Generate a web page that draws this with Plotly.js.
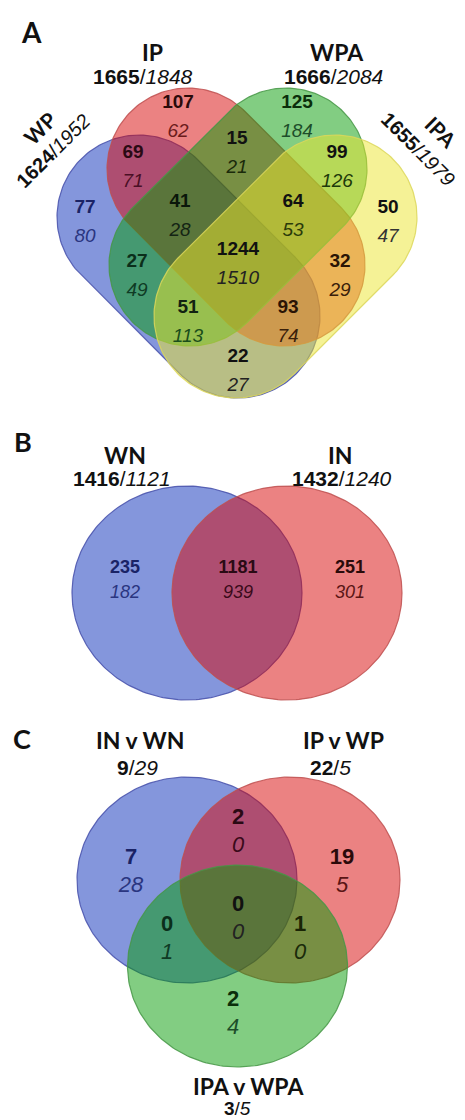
<!DOCTYPE html>
<html><head><meta charset="utf-8">
<script src="https://cdn.plot.ly/plotly-3.0.1.min.js"></script>
<style>html,body{margin:0;padding:0;background:#fff}</style>
</head><body><div id="chart" style="width:465px;height:1120px"></div>
<script>
// ================= DATA =================
// Panel A : four sets
const setNamesA = ['WP', 'IP', 'WPA', 'IPA'];
const setTotalsA = [1624, 1665, 1666, 1655];
const setTotalsAItal = [1952, 1848, 2084, 1979];
const regionNamesA = ['IP', 'WPA', 'WP&IP', 'IP&WPA', 'WPA&IPA', 'WP', 'WP&IP&WPA', 'IP&WPA&IPA', 'IPA',
  'ALL', 'WP&WPA', 'IP&IPA', 'WP&WPA&IPA', 'WP&IP&IPA', 'WP&IPA'];
const regionValuesA = [107, 125, 69, 15, 99, 77, 41, 64, 50, 1244, 27, 32, 51, 93, 22];
const regionValuesAItal = [62, 184, 71, 21, 126, 80, 28, 53, 47, 1510, 49, 29, 113, 74, 27];

// Panel B : two sets
const setNamesB = ['WN', 'IN'];
const setTotalsB = [1416, 1432];
const setTotalsBItal = [1121, 1240];
const regionNamesB = ['WN', 'WN&IN', 'IN'];
const regionValuesB = [235, 1181, 251];
const regionValuesBItal = [182, 939, 301];

// Panel C : three sets
const setNamesC = ['IN v WN', 'IP v WP', 'IPA v WPA'];
const setTotalsC = [9, 22, 3];
const setTotalsCItal = [29, 5, 5];
const regionNamesC = ['INvWN', 'INvWN&IPvWP', 'IPvWP', 'INvWN&IPAvWPA', 'ALL', 'IPvWP&IPAvWPA', 'IPAvWPA'];
const regionValuesC = [7, 2, 19, 0, 0, 1, 2];
const regionValuesCItal = [28, 0, 5, 1, 0, 0, 4];

// ================= GEOMETRY / STYLE =================
const fills = {
  blue:   {fill: 'rgba(10,45,185,0.5)',  line: 'rgba(70,80,170,0.85)'},
  red:    {fill: 'rgba(215,5,5,0.5)',    line: 'rgba(190,80,80,0.85)'},
  green:  {fill: 'rgba(5,155,5,0.5)',    line: 'rgba(70,150,70,0.85)'},
  yellow: {fill: 'rgba(235,230,45,0.5)', line: 'rgba(220,215,90,0.85)'}
};
// stadium shapes for panel A (order: WP, IP, WPA, IPA): two cap centres + radius
const stadiumsA = [
  {p1: [139, 217], p2: [238, 316], r: 82, col: 'blue'},
  {p1: [188, 169], p2: [284, 265], r: 81, col: 'red'},
  {p1: [286, 169], p2: [190, 265], r: 81, col: 'green'},
  {p1: [335, 217], p2: [236, 316], r: 82, col: 'yellow'}
];
const ellipsesB = [
  {cx: 187, cy: 593, rx: 115, ry: 107, col: 'blue'},
  {cx: 287, cy: 593, rx: 115, ry: 107, col: 'red'}
];
const ellipsesC = [
  {cx: 187, cy: 880, rx: 110, ry: 103, col: 'blue'},
  {cx: 290, cy: 880, rx: 110, ry: 103, col: 'red'},
  {cx: 237.5, cy: 966, rx: 110, ry: 101, col: 'green'}
];
// label anchors (pixel coordinates of the region labels)
const posA = [[178,103],[297,103],[133,153],[237,139],[337,153],[85,208],[180,202],[293,202],[388,208],
  [238,250],[137,262],[340,262],[188,308],[288,308],[238,357]];
const colA = [['#2a0a0a','#6b1c1c'],['#0b2e0b','#1d4d2a'],['#2a0a14','#4a0f25'],['#111','#1a2a0a'],['#111','#1e3a0a'],
  ['#1a2366','#2a3580'],['#0a160a','#142414'],['#111','#2a3a0a'],['#111','#333'],
  ['#111','#222'],['#0b2e1b','#0f3b25'],['#2a1405','#3a200a'],['#112211','#1a4d1a'],['#2a1405','#3a200a'],['#111','#222']];
const dyA = 29;
const posB = [[125,568],[238,568],[350,568]];
const colB = [['#1a2366','#2a3580'],['#2a0a14','#3a0a1a'],['#2a0a0a','#5a1515']];
const dyB = 25;
const posC = [[131,858],[238,818],[342,858],[167,925],[238,905],[300,925],[233,1000]];
const colC = [['#1a2366','#2a3580'],['#2a0a14','#3a0a1a'],['#2a0a0a','#5a1515'],['#0b2e1b','#0f3b25'],
  ['#111','#222'],['#1a2405','#1a2a0a'],['#0b2e0b','#1d4d2a']];
const dyC = 28;

function stadium(s) {
  const xs = [], ys = [];
  const dx = s.p2[0] - s.p1[0], dy = s.p2[1] - s.p1[1];
  const base = Math.atan2(dy, dx), N = 90;
  for (let i = 0; i <= N; i++) {           // cap around p2
    const t = base - Math.PI / 2 + Math.PI * i / N;
    xs.push(s.p2[0] + s.r * Math.cos(t)); ys.push(s.p2[1] + s.r * Math.sin(t));
  }
  for (let i = 0; i <= N; i++) {           // cap around p1
    const t = base + Math.PI / 2 + Math.PI * i / N;
    xs.push(s.p1[0] + s.r * Math.cos(t)); ys.push(s.p1[1] + s.r * Math.sin(t));
  }
  xs.push(xs[0]); ys.push(ys[0]);
  return {xs, ys};
}
function ellipse(e) {
  const xs = [], ys = [], N = 240;
  for (let i = 0; i <= N; i++) {
    const t = 2 * Math.PI * i / N;
    xs.push(e.cx + e.rx * Math.cos(t)); ys.push(e.cy + e.ry * Math.sin(t));
  }
  return {xs, ys};
}

const traces = [];
function addShape(pts, col) {
  traces.push({type: 'scatter', mode: 'lines', x: pts.xs, y: pts.ys, fill: 'toself',
    fillcolor: fills[col].fill, line: {color: fills[col].line, width: 1.2},
    hoverinfo: 'skip', showlegend: false});
}
stadiumsA.forEach(s => addShape(stadium(s), s.col));
ellipsesB.forEach(e => addShape(ellipse(e), e.col));
ellipsesC.forEach(e => addShape(ellipse(e), e.col));

function addLabels(vals, ital, pos, cols, dy, size, isize) {
  traces.push({type: 'scatter', mode: 'text', x: pos.map(p => p[0]), y: pos.map(p => p[1]),
    text: vals.map(v => '<b>' + v + '</b>'), textposition: 'middle center',
    textfont: {family: 'Liberation Sans, Arial, sans-serif', size: size, color: cols.map(c => c[0])},
    hoverinfo: 'skip', showlegend: false});
  traces.push({type: 'scatter', mode: 'text', x: pos.map(p => p[0]), y: pos.map(p => p[1] + dy),
    text: ital.map(v => '<i>' + v + '</i>'), textposition: 'middle center',
    textfont: {family: 'Liberation Sans, Arial, sans-serif', size: isize, color: cols.map(c => c[1])},
    hoverinfo: 'skip', showlegend: false});
}
addLabels(regionValuesA, regionValuesAItal, posA, colA, dyA, 19, 19);
addLabels(regionValuesB, regionValuesBItal, posB, colB, dyB, 18, 18);
addLabels(regionValuesC, regionValuesCItal, posC, colC, dyC, 22, 22);

const nameFont = {family: 'Lato, Open Sans, sans-serif', size: 23, color: '#111'};
const nameFontR = {family: 'Lato, Open Sans, sans-serif', size: 21, color: '#111'};
const numFont = {family: 'Liberation Sans, Arial, sans-serif', size: 21, color: '#111'};
const numFontR = {family: 'Liberation Sans, Arial, sans-serif', size: 20, color: '#111'};
const numFontS = {family: 'Liberation Sans, Arial, sans-serif', size: 19, color: '#111'};
function ann(x, y, text, font, angle) {
  return {x: x, y: y, xref: 'x', yref: 'y', text: text, showarrow: false, font: font,
    xanchor: 'center', yanchor: 'middle', textangle: angle || 0};
}
function tot(b, i) { return '<b>' + b + '</b>/<i>' + i + '</i>'; }

const annotations = [
  ann(31, 32, '<b>A</b>', {family: 'Lato, sans-serif', size: 28, color: '#111'}),
  ann(23, 441, '<b>B</b>', {family: 'Lato, sans-serif', size: 27, color: '#111'}),
  ann(22, 738, '<b>C</b>', {family: 'Lato, sans-serif', size: 27, color: '#111'}),
  // Panel A headers (WP, IP, WPA, IPA)
  ann(39, 128, '<b>' + setNamesA[0] + '</b>', nameFontR, -45),
  ann(53, 151, tot(setTotalsA[0], setTotalsAItal[0]), numFontR, -45),
  ann(152, 52, '<b>' + setNamesA[1] + '</b>', nameFont),
  ann(143, 76, tot(setTotalsA[1], setTotalsAItal[1]), numFont),
  ann(337, 52, '<b>' + setNamesA[2] + '</b>', nameFont),
  ann(333, 76, tot(setTotalsA[2], setTotalsAItal[2]), numFont),
  ann(441, 131, '<b>' + setNamesA[3] + '</b>', nameFontR, 45),
  ann(418, 149, tot(setTotalsA[3], setTotalsAItal[3]), numFontR, 45),
  // Panel B headers
  ann(125, 455, '<b>' + setNamesB[0] + '</b>', nameFont),
  ann(122, 478, tot(setTotalsB[0], setTotalsBItal[0]), numFont),
  ann(340, 455, '<b>' + setNamesB[1] + '</b>', nameFont),
  ann(342, 478, tot(setTotalsB[1], setTotalsBItal[1]), numFont),
  // Panel C headers
  ann(140, 740, '<b>' + setNamesC[0] + '</b>', nameFont),
  ann(137, 767, tot(setTotalsC[0], setTotalsCItal[0]), numFont),
  ann(343, 740, '<b>' + setNamesC[1] + '</b>', nameFont),
  ann(330, 767, tot(setTotalsC[1], setTotalsCItal[1]), numFont),
  ann(248, 1086, '<b>' + setNamesC[2] + '</b>', nameFont),
  ann(237, 1108, tot(setTotalsC[2], setTotalsCItal[2]), numFontS)
];

const layout = {
  width: 465, height: 1120,
  margin: {l: 0, r: 0, t: 0, b: 0},
  paper_bgcolor: '#fff', plot_bgcolor: '#fff',
  xaxis: {range: [0, 465], visible: false, fixedrange: true},
  yaxis: {range: [1120, 0], visible: false, fixedrange: true},
  showlegend: false,
  annotations: annotations
};
Plotly.newPlot('chart', traces, layout, {staticPlot: true, displayModeBar: false});
</script></body></html>
